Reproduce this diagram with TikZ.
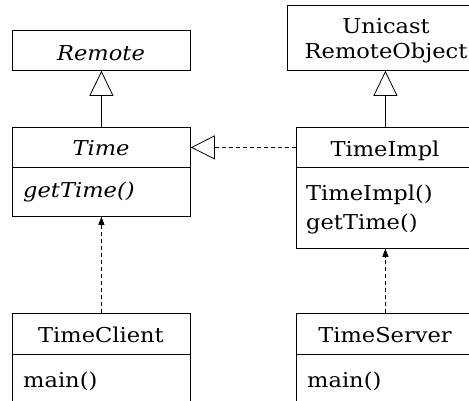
\documentclass[tikz,border=0pt]{standalone}
\usepackage{fontspec}
\setmainfont{DejaVu Serif}[FakeStretch=1.1]
\usetikzlibrary{arrows.meta}

\tikzset{
  umlbox/.style={draw, line width=0.8pt, anchor=north west, inner sep=0pt, minimum width=178pt},
  label/.style={inner sep=0pt, anchor=base, font=\fontsize{20.5}{24}\selectfont},
  lefttext/.style={label, anchor=base west},
  inherit/.style={line width=0.8pt, -{Triangle[open, length=25pt, width=24pt, fill=white]}},
  realize/.style={line width=0.8pt, dash pattern=on 4pt off 3pt, -{Triangle[open, length=24pt, width=24pt, fill=white]}},
  depend/.style={line width=0.8pt, dash pattern=on 4pt off 3pt, -{Triangle[length=8pt, width=6pt]}},
}

\begin{document}
\begin{tikzpicture}[x=1pt, y=-1pt]
  \clip (0,0) rectangle (469,400);
  \useasboundingbox (0,0) rectangle (469,400);

  % interface Remote
  \node[umlbox, minimum height=40pt] (remote) at (12,30) {};
  \node[label] (remoteT) at (101,60) {\itshape Remote};

  % interface Time
  \node[umlbox, minimum height=40pt] (timeH) at (12,127) {};
  \node[umlbox, minimum height=49pt] (timeB) at (12,167) {};
  \node[label] (timeT) at (101,155) {\itshape Time};
  \node[lefttext] (timeM) at (23,197) {\itshape getTime()};

  % class UnicastRemoteObject
  \node[umlbox, minimum width=198pt, minimum height=65pt] (uro) at (287,5) {};
  \node[label] (uroT1) at (386,33) {Unicast};
  \node[label] (uroT2) at (386,58) {RemoteObject};

  % class TimeImpl
  \node[umlbox, minimum height=40pt] (implH) at (296,127) {};
  \node[umlbox, minimum height=81pt] (implB) at (296,167) {};
  \node[label] (implT) at (385,156) {TimeImpl};
  \node[lefttext] (implM1) at (306,200) {TimeImpl()};
  \node[lefttext] (implM2) at (306,229) {getTime()};

  % class TimeClient
  \node[umlbox, minimum height=41pt] (clientH) at (12,313) {};
  \node[umlbox, minimum height=60pt] (clientB) at (12,354) {};
  \node[label] (clientT) at (101,342) {TimeClient};
  \node[lefttext] (clientM) at (23,387) {main()};

  % class TimeServer
  \node[umlbox, minimum height=41pt] (serverH) at (296,313) {};
  \node[umlbox, minimum height=60pt] (serverB) at (296,354) {};
  \node[label] (serverT) at (385,342) {TimeServer};
  \node[lefttext] (serverM) at (307,387) {main()};

  % relations
  \draw[inherit] (timeH.north) -- (remote.south);
  \draw[inherit] (implH.north) -- (uro.south -| implH.north);
  \draw[realize] (implH.west) -- (timeH.east);
  \draw[depend] (clientH.north) -- (timeB.south);
  \draw[depend] (serverH.north) -- (implB.south);
\end{tikzpicture}
\end{document}
